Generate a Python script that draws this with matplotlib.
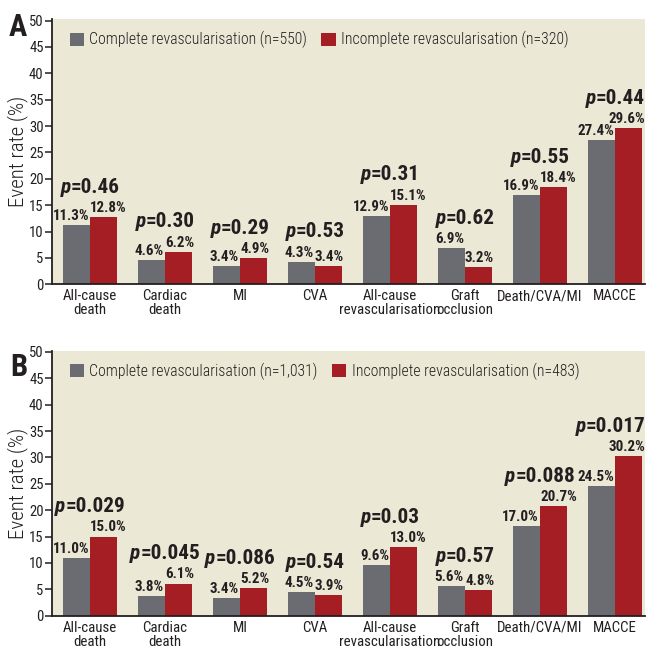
import matplotlib
matplotlib.use("Agg")
import matplotlib.pyplot as plt
from matplotlib.offsetbox import TextArea, HPacker, AnnotationBbox
import numpy as np

FONT = ["Roboto Condensed", "DejaVu Sans"]
plt.rcParams["font.family"] = FONT

categories = ["All-cause\ndeath", "Cardiac\ndeath", "MI", "CVA",
              "All-cause\nrevascularisation", "Graft\nocclusion",
              "Death/CVA/MI", "MACCE"]
yticks = [0, 5, 10, 15, 20, 25, 30, 35, 40, 45, 50]

a_complete = [11.3, 4.6, 3.4, 4.3, 12.9, 6.9, 16.9, 27.4]
a_incomplete = [12.8, 6.2, 4.9, 3.4, 15.1, 3.2, 18.4, 29.6]
a_p = ["0.46", "0.30", "0.29", "0.53", "0.31", "0.62", "0.55", "0.44"]
a_legend = ["Complete revascularisation (n=550)",
            "Incomplete revascularisation (n=320)"]

b_complete = [11.0, 3.8, 3.4, 4.5, 9.6, 5.6, 17.0, 24.5]
b_incomplete = [15.0, 6.1, 5.2, 3.9, 13.0, 4.8, 20.7, 30.2]
b_p = ["0.029", "0.045", "0.086", "0.54", "0.03", "0.57", "0.088", "0.017"]
b_legend = ["Complete revascularisation (n=1,031)",
            "Incomplete revascularisation (n=483)"]

GRAY = "#6B6C71"
RED = "#A51E24"
BG = "#ECE8D6"
TXT = "#231F20"

W, H = 647, 657
fig = plt.figure(figsize=(W / 100, H / 100), dpi=100)
fig.patch.set_facecolor("white")

P_OFFSET = 14.5
p_boxes = []
val_texts = []


def panel(rect, letter, letter_xy, comp, inc, pvals, legend_labels):
    ax = fig.add_axes(rect)
    ax.set_facecolor(BG)
    x = np.arange(len(categories))
    bw = 0.356
    b1 = ax.bar(x - bw / 2, comp, bw, color=GRAY, linewidth=0)
    b2 = ax.bar(x + bw / 2, inc, bw, color=RED, linewidth=0)
    ax.set_xlim(-0.507, 7.4)
    ax.set_ylim(0, 50.25)
    for s in ["top", "right"]:
        ax.spines[s].set_visible(False)
    for s in ["left", "bottom"]:
        ax.spines[s].set_linewidth(1.3)
        ax.spines[s].set_color(TXT)
    ax.set_yticks(yticks)
    ax.set_yticklabels([str(t) for t in yticks], fontsize=10.5, color=TXT)
    ax.tick_params(axis="y", direction="out", length=5, width=1.1,
                   pad=1, colors=TXT)
    ax.set_xticks(x)
    ax.set_xticklabels(categories, fontsize=10.7, color=TXT,
                       linespacing=1.0)
    ax.tick_params(axis="x", length=0, pad=3.5)
    ax.set_ylabel("Event rate (%)", fontsize=15, color=TXT,
                  fontweight="light")
    ax.yaxis.set_label_coords(-0.041, 0.5)

    for i in range(len(categories)):
        ax.annotate(f"{comp[i]:.1f}%", (i, comp[i]), xytext=(-0.8, 1.5),
                    textcoords="offset points", ha="right", va="bottom",
                    fontsize=10.8, fontweight="bold", color=TXT)
        t = ax.annotate(f"{inc[i]:.1f}%", (i, inc[i]), xytext=(0, 1.5),
                        textcoords="offset points", ha="left", va="bottom",
                        fontsize=10.8, fontweight="bold", color=TXT)
        val_texts.append(t)
        top = max(comp[i], inc[i])
        pk = TextArea("p", textprops=dict(fontsize=15.3, fontweight="bold",
                                         fontstyle="italic", color=TXT,
                                         family=FONT))
        rest = TextArea("=" + pvals[i], textprops=dict(fontsize=15.3,
                                                      fontweight="bold",
                                                      color=TXT, family=FONT))
        pack = HPacker(children=[pk, rest], align="baseline", pad=0, sep=0)
        ab = AnnotationBbox(pack, (i, top), xybox=(0, P_OFFSET),
                            xycoords="data", boxcoords="offset points",
                            box_alignment=(0.5, 0), frameon=False, pad=0)
        ax.add_artist(ab)
        p_boxes.append(ab)

    ax.legend([b1, b2], legend_labels, ncol=2, loc="upper left",
              bbox_to_anchor=(0.03, 0.955), frameon=False,
              handlelength=0.9, handleheight=0.9, handletextpad=0.35,
              columnspacing=0.9, borderaxespad=0, borderpad=0,
              prop=dict(family=FONT, size=11.3, weight="light"),
              labelcolor=TXT)
    fig.text(letter_xy[0] / W, 1 - letter_xy[1] / H, letter, fontsize=22,
             fontweight="bold", color=TXT, ha="left", va="baseline")
    return ax


ax_w = 593 / W
ax_h = 265.1 / H
panel([52 / W, (H - 284.3) / H, ax_w, ax_h], "A", (9, 36),
      a_complete, a_incomplete, a_p, a_legend)
panel([52 / W, (H - 615.7) / H, ax_w, ax_h], "B", (10, 376.5),
      b_complete, b_incomplete, b_p, b_legend)

# keep labels inside the figure's right edge
fig.canvas.draw()
renderer = fig.canvas.get_renderer()
limit = W - 1.5
for ab in p_boxes:
    bb = ab.get_window_extent(renderer)
    if bb.x1 > limit:
        ab.xybox = (-(bb.x1 - limit) * 72 / 100, P_OFFSET)
for t in val_texts:
    bb = t.get_window_extent(renderer)
    if bb.x1 > limit:
        t.set_position((-(bb.x1 - limit) * 72 / 100, 1.5))

fig.savefig("out.png", dpi=100, facecolor="white")
